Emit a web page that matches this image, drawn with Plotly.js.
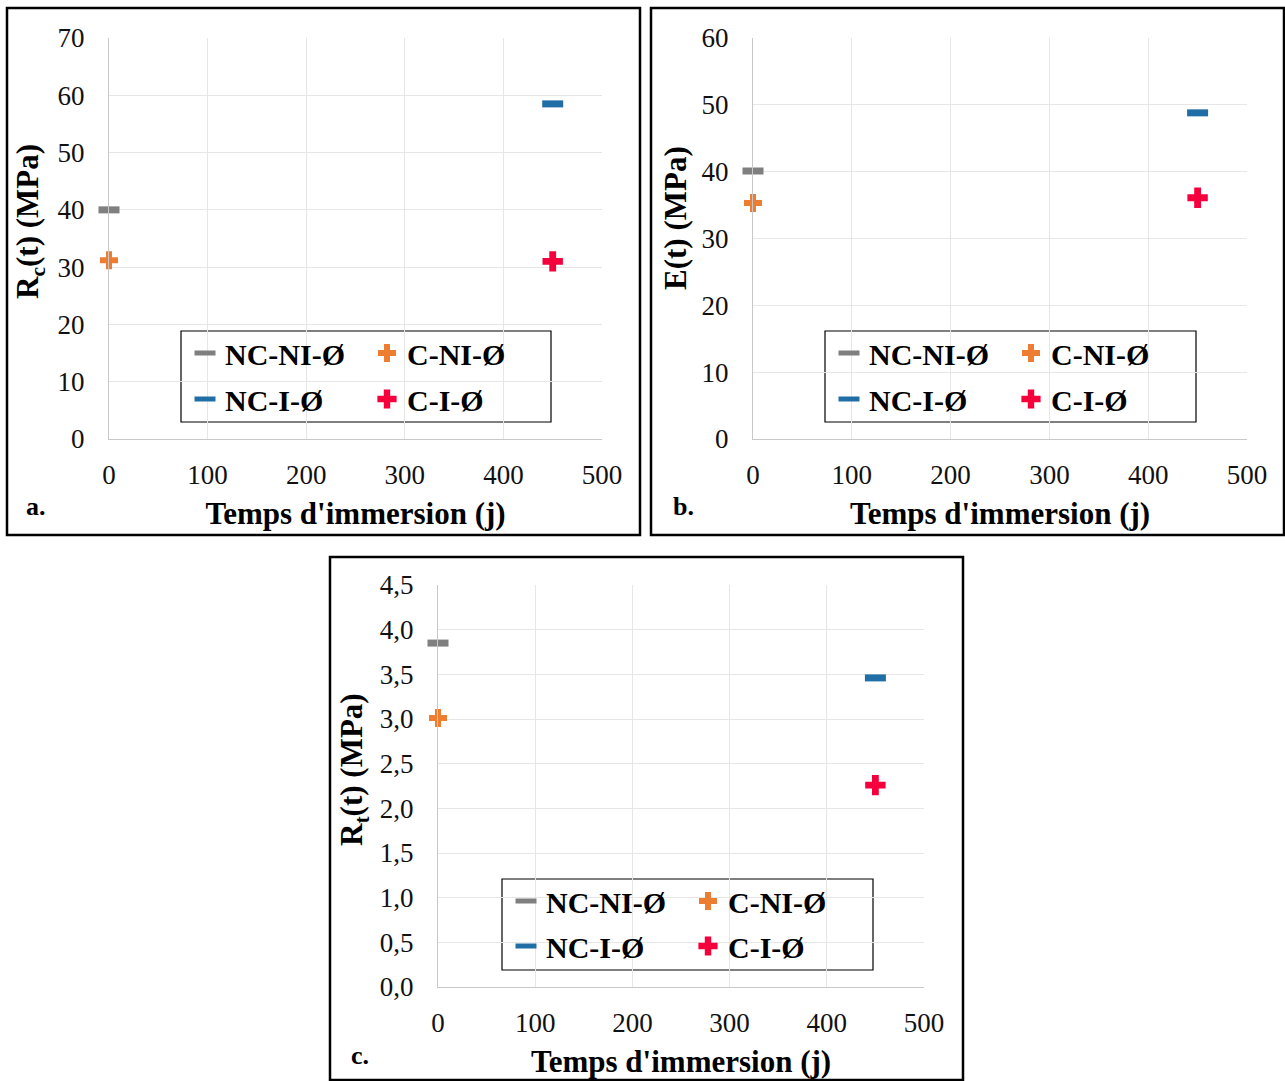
<!DOCTYPE html>
<html>
<head>
<meta charset="utf-8">
<script src="https://cdn.plot.ly/plotly-3.0.1.min.js"></script>
<style>html,body{margin:0;padding:0;background:#fff;}#chart{width:1285px;height:1081px;}</style>
</head>
<body>
<div id="chart"></div>
<script>
// ---- data ----
const seriesNames = ['NC-NI-Ø', 'C-NI-Ø', 'NC-I-Ø', 'C-I-Ø'];
const seriesDays = [0, 0, 450, 450];
const rcValues = [40.0, 31.2, 58.5, 31.0];   // panel a, Rc(t) MPa
const eValues = [40.1, 35.3, 48.8, 36.1];    // panel b, E(t) MPa
const rtValues = [3.85, 3.01, 3.46, 2.26];   // panel c, Rt(t) MPa
const xTickVals = [0, 100, 200, 300, 400, 500];
const rcTickVals = [0, 10, 20, 30, 40, 50, 60, 70];
const eTickVals = [0, 10, 20, 30, 40, 50, 60];
const rtTickVals = [0, 0.5, 1.0, 1.5, 2.0, 2.5, 3.0, 3.5, 4.0, 4.5];
const panelLabels = ['a.', 'b.', 'c.'];
const xTitle = "Temps d'immersion (j)";
const yTitles = ['R<sub>c</sub>(t) (MPa)', 'E(t) (MPa)', 'R<sub>t</sub>(t) (MPa)'];

// ---- styles ----
const W = 1285, H = 1081;
const FONT = 'Liberation Serif, Times New Roman, serif';
const seriesStyle = [
  {symbol: 'line-ew', size: 15, color: '#7f7f7f', lw: 7},
  {symbol: 'cross', size: 15, color: '#ed7d31', lw: 0},
  {symbol: 'line-ew', size: 15, color: '#1f6ea6', lw: 7},
  {symbol: 'cross', size: 17, color: '#f5003c', lw: 0}
];
const px = v => v / W;
const py = v => 1 - v / H;

const panels = [
  {vals: rcValues, ticks: rcTickVals, yr: [0, 70], xd: [px(109), px(602)], yd: [py(439), py(38)], fmt: 'd',
   frame: [7, 8, 640, 535], box: [181, 331, 551, 422], lab: [36, 507], legY: [353, 399], yt: [30, 222]},
  {vals: eValues, ticks: eTickVals, yr: [0, 60], xd: [px(753), px(1247)], yd: [py(439), py(38)], fmt: 'd',
   frame: [651, 8, 1284, 535], box: [825, 331, 1196, 422], lab: [683, 507], legY: [353, 399], yt: [675, 218]},
  {vals: rtValues, ticks: rtTickVals, yr: [0, 4.5], xd: [px(438), px(924)], yd: [py(987), py(585)], fmt: '.1f',
   frame: [330, 557, 963, 1080], box: [502, 879, 873, 970], lab: [360, 1055], legY: [901, 946], yt: [354, 770]}
];

const traces = [];
const layout = {
  width: W, height: H,
  margin: {l: 0, r: 0, t: 0, b: 0},
  paper_bgcolor: '#ffffff', plot_bgcolor: '#ffffff',
  separators: ', ',
  font: {family: FONT, color: '#000', size: 24},
  shapes: [], annotations: []
};

panels.forEach((p, i) => {
  const n = i === 0 ? '' : String(i + 1);
  const xa = 'x' + n, ya = 'y' + n;
  const leg1 = 'legend' + (i === 0 ? '' : String(2 * i + 1));
  const leg2 = 'legend' + String(2 * i + 2);
  seriesNames.forEach((name, k) => {
    const s = seriesStyle[k];
    traces.push({
      type: 'scatter', mode: 'markers', name: name,
      x: [seriesDays[k]], y: [p.vals[k]],
      xaxis: xa, yaxis: ya, cliponaxis: false,
      legend: k < 2 ? leg1 : leg2,
      marker: {symbol: s.symbol, size: s.size, color: s.color,
               line: {color: s.color, width: s.lw}},
      hoverinfo: 'x+y+name'
    });
  });
  layout['xaxis' + n] = {
    domain: p.xd, anchor: ya, range: [0, 500], tickvals: xTickVals,
    showgrid: true, gridcolor: '#e6e6e6', gridwidth: 1, zeroline: false,
    showline: true, linecolor: '#c8c8c8', linewidth: 1,
    ticks: '', ticklabelstandoff: 12,
    tickfont: {family: FONT, size: 27, color: '#111'},
    title: {text: xTitle, font: {family: FONT, size: 31, weight: 'bold', color: '#000'}, standoff: 12},
    automargin: false, fixedrange: true
  };
  layout['yaxis' + n] = {
    domain: p.yd, anchor: xa, range: p.yr, tickvals: p.ticks, tickformat: p.fmt,
    showgrid: true, gridcolor: '#e6e6e6', gridwidth: 1, zeroline: false,
    showline: true, linecolor: '#c8c8c8', linewidth: 1,
    ticks: '', ticklabelstandoff: 18,
    tickfont: {family: FONT, size: 27, color: '#111'},
    automargin: false, fixedrange: true
  };
  layout.annotations.push({text: yTitles[i], xref: 'paper', yref: 'paper',
    x: px(p.yt[0]), y: py(p.yt[1]), xanchor: 'center', yanchor: 'middle', textangle: -90,
    showarrow: false, font: {family: FONT, size: 31, weight: 'bold', color: '#000'}});
  [leg1, leg2].forEach((lg, r) => {
    layout[lg] = {
      orientation: 'h', x: px(p.box[0] + 4), xanchor: 'left', y: py(p.legY[r]), yanchor: 'middle',
      bgcolor: 'rgba(0,0,0,0)', borderwidth: 0, entrywidth: 137, entrywidthmode: 'pixels',
      font: {family: FONT, size: 30, weight: 'bold', color: '#000'},
      itemclick: false, itemdoubleclick: false, tracegroupgap: 0
    };
  });
  // panel frame
  layout.shapes.push({type: 'rect', xref: 'paper', yref: 'paper',
    x0: px(p.frame[0]), x1: px(p.frame[2]), y0: py(p.frame[3]), y1: py(p.frame[1]),
    line: {color: '#000', width: 2.5}, fillcolor: 'rgba(0,0,0,0)'});
  // legend box
  layout.shapes.push({type: 'rect', xref: 'paper', yref: 'paper',
    x0: px(p.box[0]), x1: px(p.box[2]), y0: py(p.box[3]), y1: py(p.box[1]),
    line: {color: '#000', width: 1.2}, fillcolor: 'rgba(0,0,0,0)', layer: 'below'});
  layout.annotations.push({text: panelLabels[i], xref: 'paper', yref: 'paper',
    x: px(p.lab[0]), y: py(p.lab[1]), xanchor: 'center', yanchor: 'middle', showarrow: false,
    font: {family: FONT, size: 26, weight: 'bold', color: '#000'}});
});

Plotly.newPlot('chart', traces, layout, {displayModeBar: false, staticPlot: false});
</script>
</body>
</html>
